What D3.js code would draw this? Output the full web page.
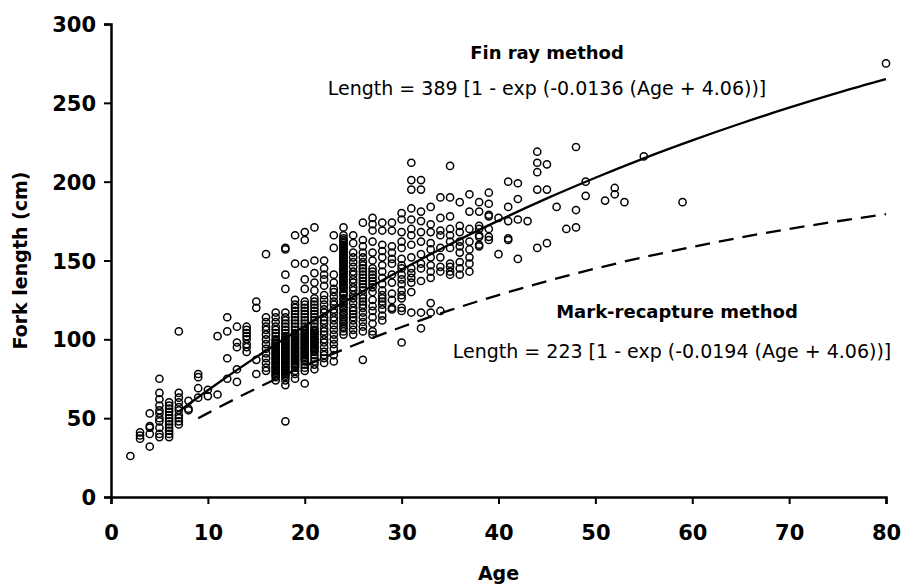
<!DOCTYPE html>
<html>
<head>
<meta charset="utf-8">
<script src="https://cdn.jsdelivr.net/npm/d3@7"></script>
<style>
  body { margin: 0; background: #fff; }
  svg { font-family: "DejaVu Sans", sans-serif; }
</style>
</head>
<body>
<svg id="graphic-svg" width="902" height="586"></svg>
<script>
var ages = [2, 3, 4, 5, 6, 7, 8, 9, 10, 11, 12, 13, 14, 15, 16, 17, 18, 19, 20,
            21, 22, 23, 24, 25, 26, 27, 28, 29, 30, 31, 32, 33, 34, 35, 36, 37,
            38, 39, 40, 41, 42, 43, 44, 45, 46, 47, 48, 49, 51, 52, 53, 55, 59, 80];
var lengthsByAge = [
  [26],
  [41, 39, 37],
  [53, 45, 44, 40, 32],
  [75, 66, 62, 58, 55, 53, 50, 48, 44, 40, 38],
  [60, 58, 56, 54, 52, 50, 48, 46, 44, 42, 40, 38],
  [105, 66, 63, 60, 57, 55, 52, 50, 48, 46],
  [61, 56, 55],
  [78, 76, 69, 63],
  [68, 64],
  [102, 65],
  [114, 105, 88, 75],
  [108, 98, 95, 81, 73],
  [108, 106, 104, 102, 100, 97, 95, 92],
  [124, 120, 87, 78],
  [154, 114, 111, 108, 106, 103, 100, 97, 94, 91, 88, 85, 82, 80],
  [117, 114, 111, 108, 106, 104, 102, 100, 99, 98, 97, 96, 95, 94, 93, 92, 91, 90, 89, 88, 87, 86, 85, 84, 83, 82, 81, 80, 79, 78, 77, 76, 74],
  [158, 157, 141, 132, 117, 114, 112, 110, 108, 106, 104, 102, 101, 100, 99, 98, 97, 96, 95, 94, 93, 92, 91, 90, 89, 88, 87, 86, 85, 84, 83, 82, 81, 80, 79, 78, 77, 76, 74, 71, 48],
  [166, 148, 125, 122, 120, 118, 116, 114, 112, 110, 108, 106, 104, 103, 102, 101, 100, 99, 98, 97, 96, 95, 94, 93, 92, 91, 90, 89, 88, 87, 86, 85, 84, 83, 82, 80, 78, 75],
  [168, 163, 148, 138, 132, 124, 122, 120, 118, 116, 114, 112, 110, 108, 106, 105, 104, 103, 102, 101, 100, 99, 98, 97, 96, 95, 94, 93, 92, 91, 90, 89, 88, 87, 86, 84, 82, 80, 72],
  [171, 150, 142, 136, 131, 126, 124, 122, 120, 118, 116, 114, 112, 110, 108, 106, 105, 104, 103, 102, 101, 100, 99, 98, 97, 96, 95, 94, 93, 92, 90, 88, 86, 84, 81],
  [150, 145, 141, 138, 134, 128, 125, 122, 119, 117, 114, 112, 110, 107, 105, 103, 100, 98, 95, 92, 90, 88, 85],
  [166, 158, 141, 136, 132, 130, 127, 124, 122, 119, 117, 114, 112, 109, 106, 103, 100, 97, 94, 90, 86],
  [171, 166, 164, 163, 162, 161, 160, 159, 158, 157, 156, 155, 154, 153, 152, 151, 150, 149, 148, 147, 146, 145, 144, 143, 142, 141, 140, 139, 138, 137, 136, 135, 134, 133, 132, 130, 129, 128, 126, 125, 123, 122, 120, 119, 117, 116, 114, 113, 111, 110, 108, 107, 105, 103],
  [166, 161, 155, 152, 149, 146, 143, 141, 138, 136, 133, 131, 128, 126, 123, 120, 118, 116, 114, 112, 109, 106, 103],
  [174, 163, 159, 155, 152, 149, 147, 145, 143, 141, 139, 137, 135, 133, 131, 128, 126, 124, 122, 120, 117, 114, 111, 108, 105, 87],
  [177, 173, 169, 162, 155, 150, 145, 143, 141, 139, 137, 135, 133, 130, 125, 121, 118, 114, 110, 105, 103],
  [174, 169, 160, 156, 152, 147, 143, 139, 135, 131, 128, 126, 124, 122, 119, 115, 112],
  [174, 169, 159, 155, 151, 148, 141, 136, 129, 125, 120, 119],
  [180, 176, 168, 162, 158, 151, 147, 145, 141, 138, 135, 131, 128, 126, 120, 118, 98],
  [212, 201, 195, 183, 176, 170, 166, 160, 152, 145, 142, 139, 136, 130, 117],
  [201, 195, 181, 175, 168, 162, 154, 148, 145, 137, 117, 107],
  [184, 173, 168, 161, 157, 152, 147, 143, 139, 123, 117],
  [190, 177, 169, 166, 158, 152, 146, 143, 118],
  [210, 190, 178, 170, 166, 162, 158, 148, 146, 143, 141],
  [187, 172, 168, 162, 159, 155, 149, 145, 141],
  [192, 181, 170, 162, 157, 152, 148, 143],
  [187, 181, 172, 170, 166, 165, 160, 159],
  [193, 186, 179, 178, 170, 165, 163],
  [177, 154],
  [200, 184, 175, 164, 163],
  [199, 189, 176, 151],
  [175],
  [219, 212, 206, 195, 158],
  [211, 195, 161],
  [184],
  [170],
  [222, 182, 171],
  [200, 191],
  [188],
  [196, 192],
  [187],
  [216],
  [187],
  [275]
];

// fitted growth curves, read at these ages
var finRayAges = [7, 10, 15, 20, 25, 30, 35, 40, 45, 50, 55, 60, 65, 70, 75, 80];
var finRayLength = [54.3, 67.7, 88.8, 108.5, 127.0, 144.2, 160.3, 175.3, 189.4, 202.5, 214.8, 226.2, 236.9, 246.9, 256.3, 265.0];
var markAges = [9, 10, 15, 20, 25, 30, 35, 40, 45, 50, 55, 60, 65, 70, 75, 80];
var markLength = [49.9, 53.2, 68.9, 83.2, 96.1, 107.8, 118.5, 128.1, 136.9, 144.9, 152.1, 158.6, 164.6, 170.0, 174.9, 179.4];

var xTicks = [0, 10, 20, 30, 40, 50, 60, 70, 80];
var yTicks = [0, 50, 100, 150, 200, 250, 300];

function init() {
  var svg = d3.select("#graphic-svg");
  var margin = { left: 111, right: 16, top: 24, bottom: 89 };
  var width = 902, height = 586;

  var x = d3.scaleLinear().domain([0, 80]).range([margin.left, width - margin.right]);
  var y = d3.scaleLinear().domain([0, 300]).range([height - margin.bottom, margin.top]);

  // flatten scatter
  var points = [];
  ages.forEach(function(a, i) {
    lengthsByAge[i].forEach(function(l) { points.push({ age: a, len: l }); });
  });

  // Axes
  var xAxis = svg.append("g")
     .attr("transform", "translate(0," + y(0) + ")")
     .call(d3.axisBottom(x).tickValues(xTicks).tickSize(7).tickPadding(21).tickFormat(d3.format("d")));
  var yAxis = svg.append("g")
     .attr("transform", "translate(" + x(0) + ",0)")
     .call(d3.axisLeft(y).tickValues(yTicks).tickSize(7).tickPadding(8).tickFormat(d3.format("d")));

  [xAxis, yAxis].forEach(function(g) {
    g.select(".domain").attr("stroke", "#000").attr("stroke-width", 2.5);
    g.selectAll(".tick line").attr("stroke", "#000").attr("stroke-width", 2);
    g.selectAll(".tick text")
     .attr("fill", "#000")
     .style("font-size", "21px")
     .style("font-weight", "bold")
     .style("font-family", "DejaVu Sans, sans-serif");
  });
  yAxis.selectAll(".tick text").attr("dy", "0.36em");

  // Points
  svg.append("g")
     .selectAll("circle")
     .data(points)
     .enter()
     .append("circle")
     .attr("cx", function(d) { return x(d.age); })
     .attr("cy", function(d) { return y(d.len); })
     .attr("r", 3.6)
     .attr("fill", "none")
     .attr("stroke", "#000")
     .attr("stroke-width", 1.5);

  // Curves
  var line = d3.line()
     .x(function(d) { return x(d[0]); })
     .y(function(d) { return y(d[1]); })
     .curve(d3.curveMonotoneX);

  svg.append("path")
     .datum(d3.zip(finRayAges, finRayLength))
     .attr("d", line)
     .attr("fill", "none")
     .attr("stroke", "#000")
     .attr("stroke-width", 2.3);

  svg.append("path")
     .datum(d3.zip(markAges, markLength))
     .attr("d", line)
     .attr("fill", "none")
     .attr("stroke", "#000")
     .attr("stroke-width", 2.3)
     .attr("stroke-dasharray", "15,9");

  // Annotations
  svg.append("text")
     .attr("x", 547).attr("y", 59)
     .attr("text-anchor", "middle")
     .style("font-size", "18px").style("font-weight", "bold")
     .text("Fin ray method");
  svg.append("text")
     .attr("x", 547).attr("y", 95)
     .attr("text-anchor", "middle")
     .style("font-size", "19px")
     .text("Length = 389 [1 - exp (-0.0136 (Age + 4.06))]");
  svg.append("text")
     .attr("x", 677).attr("y", 318)
     .attr("text-anchor", "middle")
     .style("font-size", "18px").style("font-weight", "bold")
     .text("Mark-recapture method");
  svg.append("text")
     .attr("x", 672).attr("y", 358)
     .attr("text-anchor", "middle")
     .style("font-size", "19px")
     .text("Length = 223 [1 - exp (-0.0194 (Age + 4.06))]");

  // Axis titles
  svg.append("text")
     .attr("x", (x(0) + x(80)) / 2).attr("y", 580)
     .attr("text-anchor", "middle")
     .style("font-size", "19px").style("font-weight", "bold")
     .text("Age");
  svg.append("text")
     .attr("transform", "translate(27," + ((y(0) + y(300)) / 2) + ") rotate(-90)")
     .attr("text-anchor", "middle")
     .style("font-size", "19px").style("font-weight", "bold")
     .text("Fork length (cm)");
}

init();
</script>
</body>
</html>
